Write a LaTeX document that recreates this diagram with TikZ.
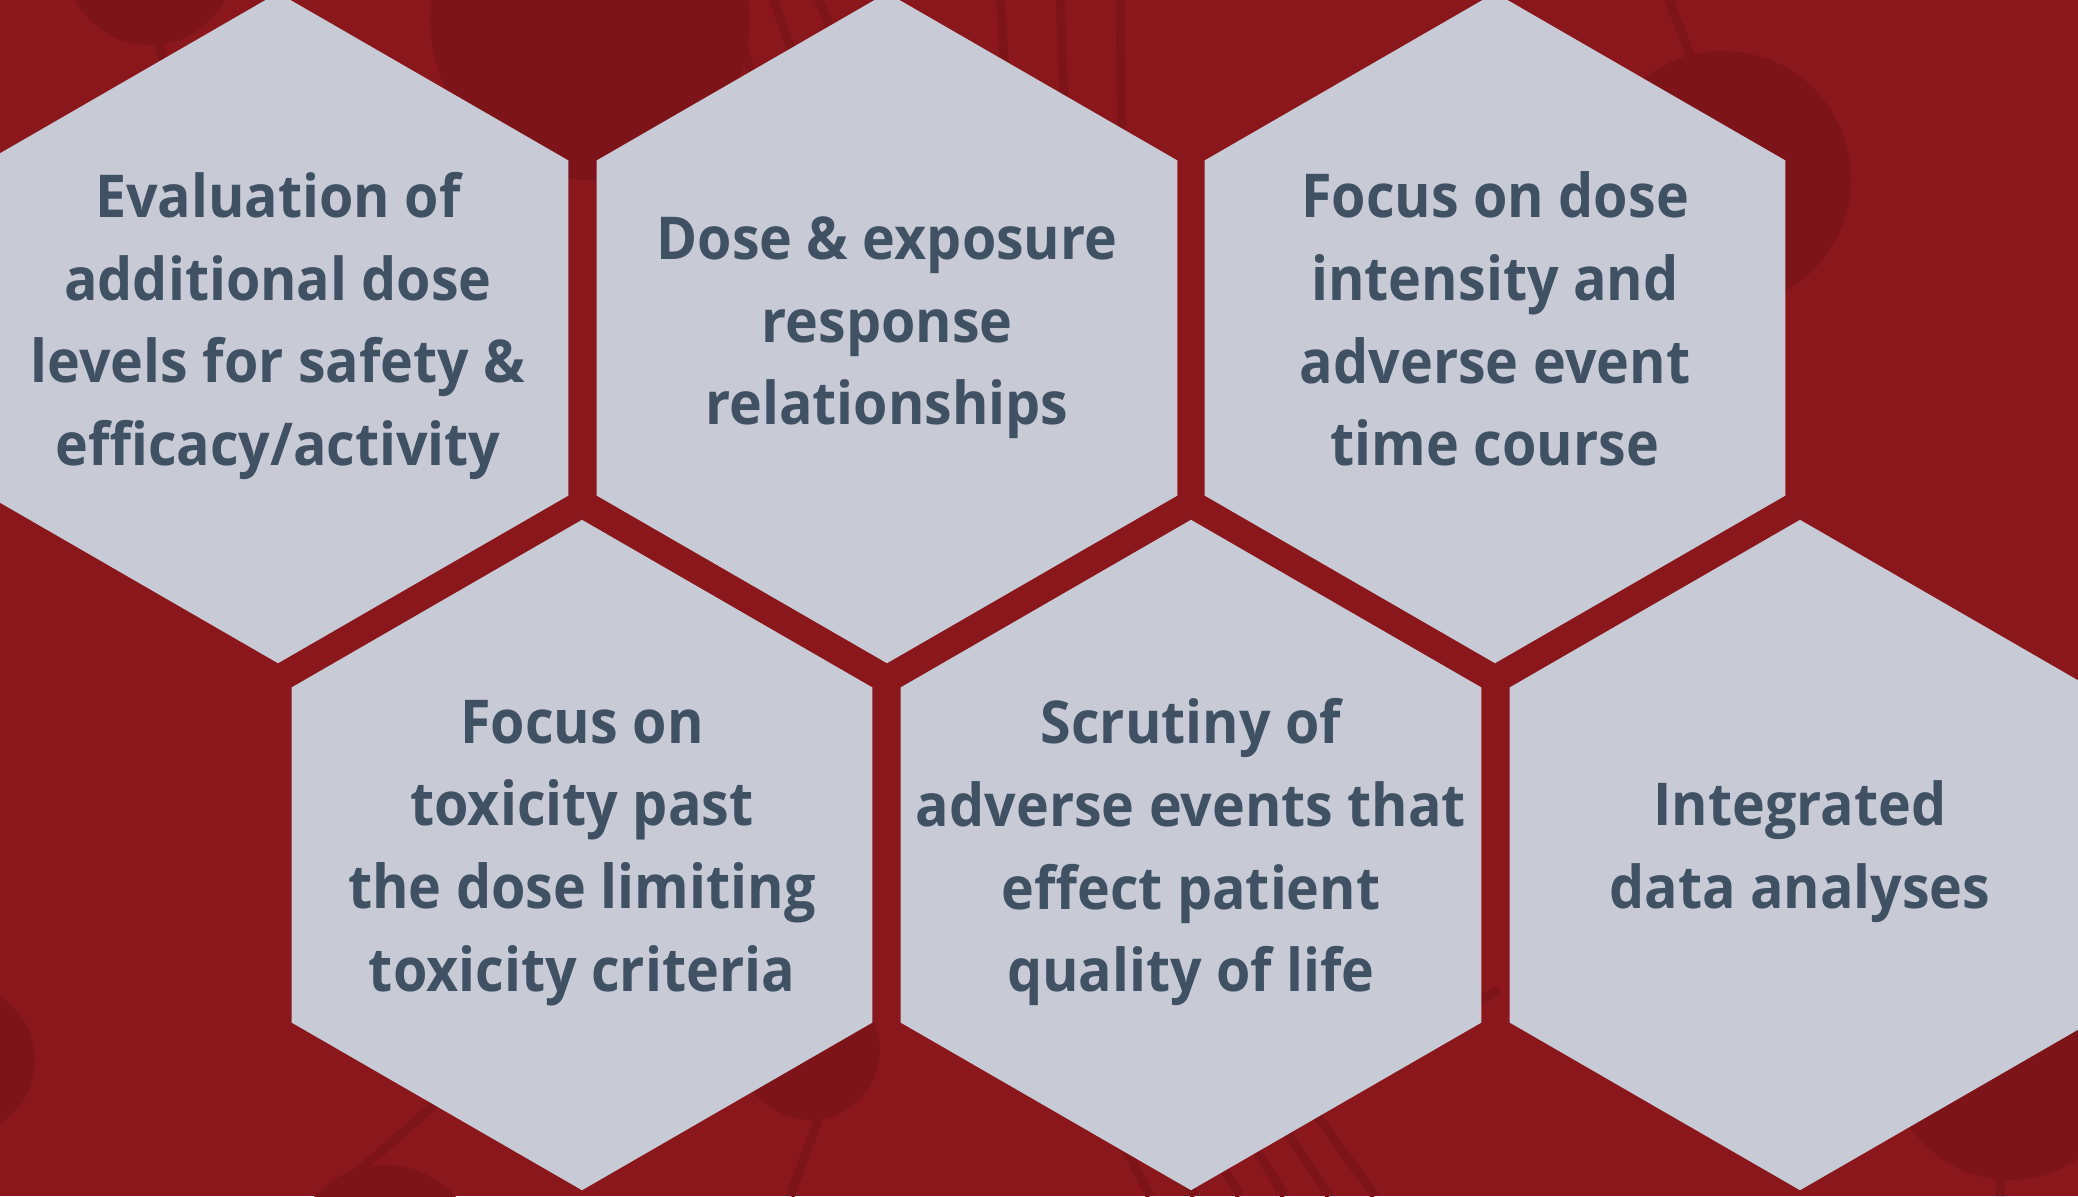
\documentclass[tikz,border=0pt]{standalone}
\usepackage{fontspec}
\setmainfont{Open Sans}
\usetikzlibrary{shapes.geometric}
\definecolor{bgred}{HTML}{8A171C}
\definecolor{shade}{HTML}{7D1419}
\definecolor{cellgray}{HTML}{C8CBD6}
\definecolor{inkblue}{HTML}{3F5163}
\begin{document}
\begin{tikzpicture}[x=.01cm,y=-.01cm,
  hexcell/.style={regular polygon,regular polygon sides=6,shape border rotate=30,minimum size=6.7cm,inner sep=0,outer sep=0,fill=cellgray},
  celltext/.style={align=center,text=inkblue,font=\fontsize{16.8}{23.5}\selectfont\bfseries\addfontfeature{FakeStretch=.94}},
  narrowtext/.style={celltext,font=\fontsize{17.2}{23.5}\selectfont\bfseries\addfontfeature{FakeStretch=.92}},
  blob/.style={fill=shade},
  streak/.style={draw=shade,line width=.09cm}]
\useasboundingbox (0,0) rectangle (2078,1196);
\clip (0,0) rectangle (2078,1196);
\fill[bgred] (0,0) rectangle (2078,1196);
% faint network pattern behind the cells
\fill[blob] (150,-40) circle (85);\draw[streak] (150,20)--(185,120);
\fill[blob] (590,20) circle (160);
\foreach \a in {0,40,85,130,175} \draw[streak] (640+\a,-10)--(700+\a*1.2,230);
\fill[blob] (1723,179) circle (128);\draw[streak] (1665,-10)--(1700,80);
\foreach \a in {0,60,120} \draw[streak] (1000+\a,-10)--(1015+\a*.9,250);
\fill[blob] (-40,1060) circle (75);
\fill[blob] (385,1260) circle (95);\draw[streak] (330,1196)--(440,1100);
\fill[blob] (810,1050) circle (70);\draw[streak] (790,1196)--(840,1060);
\foreach \a in {0,45,90,135,180,225} \draw[streak] (1150+\a,1196)--(1040+\a*.8,980);
\draw[streak] (1230,1120)--(1500,990);
\fill[blob] (2010,1060) circle (120);\draw[streak] (2000,1196)--(2005,1080);
% cells
\node[hexcell] (h1) at (278,328) {};
\node[hexcell] (h2) at (887,328) {};
\node[hexcell] (h3) at (1495,328) {};
\node[hexcell] (h4) at (582,855) {};
\node[hexcell] (h5) at (1191,855) {};
\node[hexcell] (h6) at (1800,855) {};
\node[celltext] (t1) at ([yshift=.6]h1.center) {Evaluation of\\additional dose\\levels for safety \&\\efficacy/activity};
\node[celltext] (t2) at (h2.center) {Dose \& exposure\\response\\relationships};
\node[narrowtext] (t3) at ([yshift=2.5]h3.center) {Focus on dose\\intensity and\\adverse event\\time course};
\node[narrowtext] (t4) at ([yshift=.6]h4.center) {Focus on\\toxicity past\\the dose limiting\\toxicity criteria};
\node[celltext] (t5) at ([yshift=.75]h5.center) {Scrutiny of\\adverse events that\\effect patient\\quality of life};
\node[celltext] (t6) at ([yshift=.9]h6.center) {Integrated\\data analyses};
\end{tikzpicture}
\end{document}
